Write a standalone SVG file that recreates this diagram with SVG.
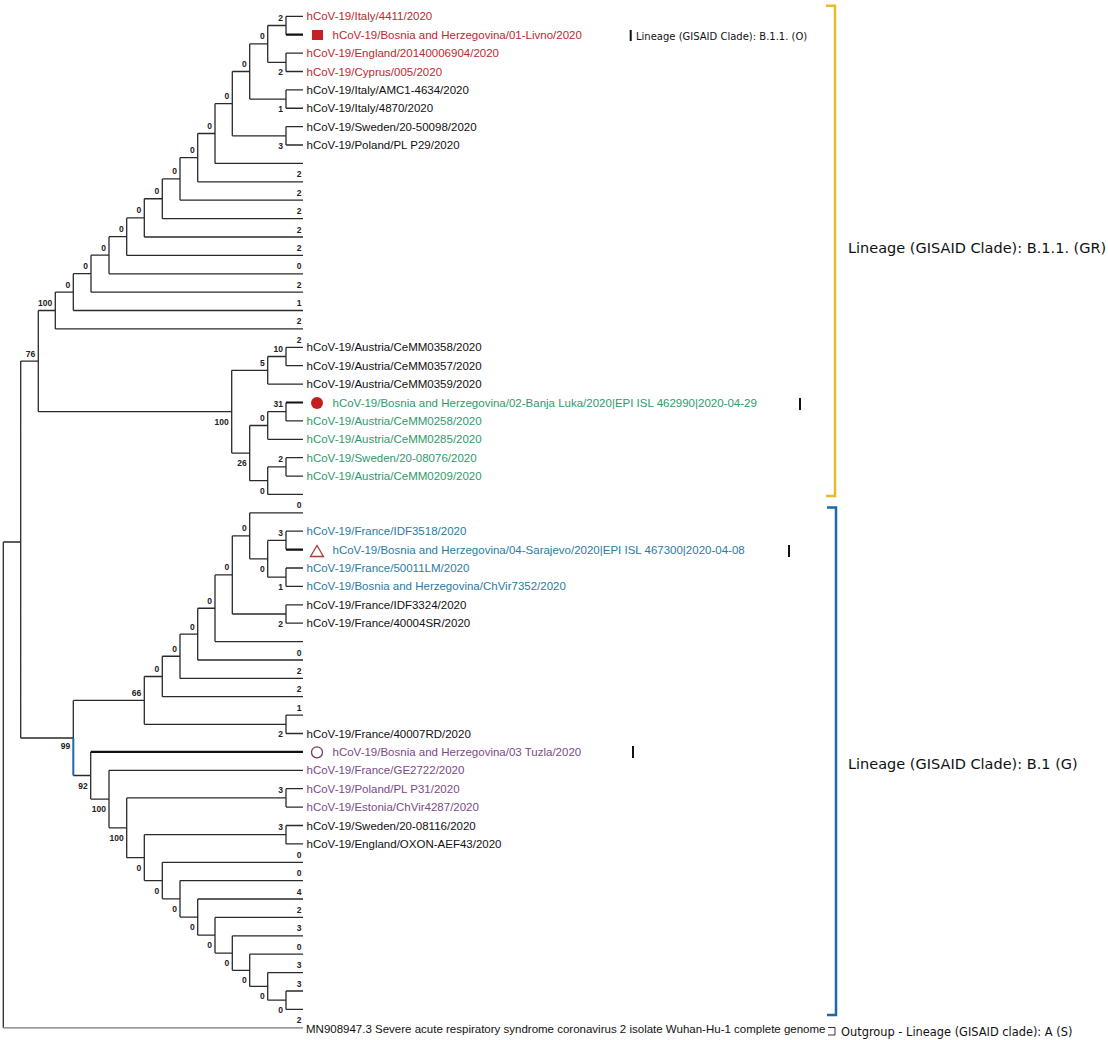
<svg xmlns="http://www.w3.org/2000/svg" width="1108" height="1040" viewBox="0 0 1108 1040">
<style>
.t{font-family:"Liberation Sans",Arial,sans-serif;font-size:11.5px}
.n{font-family:"Liberation Sans",Arial,sans-serif;font-size:8.5px;font-weight:bold;fill:#222;text-anchor:end}
.red{fill:#c0272d}.grn{fill:#2f9a6c}.blu{fill:#2a7ba2}.pur{fill:#7b4a86}.blk{fill:#111}
.tree{fill:none;stroke:#2a2a2a;stroke-width:1.3}
.bold{fill:none;stroke:#111;stroke-width:2.2}
.lab{font-family:"DejaVu Sans",sans-serif;font-size:14.5px;fill:#111}
.tick{stroke:#111;stroke-width:2}
</style>
<rect width="1108" height="1040" fill="#fff"/>
<g id="connectors">
<path class="tree" d="M3.3,542V1027.8M3.3,542H20.7
M20.7,361.1V738M20.7,361.1H38.3M20.7,738H73.3
M38.3,310.5V411.7M38.3,310.5H55.3M38.3,411.7H231.7
M55.3,292.1V328.9M55.3,292.1H73.3M55.3,328.9H303
M73.3,273.7V310.5M73.3,273.7H91M73.3,310.5H303
M91,255.2V292.2M91,255.2H109M91,292.2H303
M109,236.65V273.8M109,236.65H126.7M109,273.8H303
M126.7,217.9V255.4M126.7,217.9H144.3M126.7,255.4H303
M144.3,198.75V237M144.3,198.75H162.3M144.3,237H303
M162.3,178.9V218.6M162.3,178.9H180M162.3,218.6H303
M180,157.65V200.2M180,157.65H197.7M180,200.2H303
M197.7,133.5V181.8M197.7,133.5H215M197.7,181.8H303
M215,103.65V163.4M215,103.65H232.3M215,163.4H303
M232.3,71.5V135.8M232.3,71.5H249.7M232.3,135.8H286
M249.7,43.9V99.1M249.7,43.9H267.7M249.7,99.1H286
M267.7,25.5V62.3M267.7,25.5H286M267.7,62.3H286
M286,16.3V34.7M286,16.3H303
M286,53.1V71.5M286,53.1H303M286,71.5H303
M286,89.9V108.25M286,89.9H303M286,108.25H303
M286,126.6V145M286,126.6H303M286,145H303
M231.7,370.3V453.1M231.7,370.3H267.7M231.7,453.1H249.7
M267.7,356.5V384.1M267.7,356.5H286M267.7,384.1H303
M286,347.3V365.7M286,347.3H303M286,365.7H303
M249.7,425.5V480.65M249.7,425.5H267.7M249.7,480.65H267.7
M267.7,411.7V439.3M267.7,411.7H286M267.7,439.3H303
M286,402.5V420.9M286,420.9H303
M267.7,466.9V494.4M267.7,466.9H286M267.7,494.4H303
M286,457.7V476.1M286,457.7H303M286,476.1H303
M73.3,700.4V738M73.3,700.4H144.3M73.3,775.5H90.7
M144.3,676.5V724.3M144.3,676.5H162.3M144.3,724.3H286
M286,715.1V733.5M286,715.1H303M286,733.5H303
M162.3,656.25V696.7M162.3,656.25H180M162.3,696.7H303
M180,634.1V678.4M180,634.1H197.7M180,678.4H303
M197.7,608.25V660M197.7,608.25H215M197.7,660H303
M215,574.9V641.6M215,574.9H232.3M215,641.6H303
M232.3,535.8V614M232.3,535.8H249.7M232.3,614H286
M286,604.8V623.2M286,604.8H303M286,623.2H303
M249.7,512.8V558.8M249.7,512.8H303M249.7,558.8H267.7
M267.7,540.4V577.2M267.7,540.4H286M267.7,577.2H286
M286,531.2V549.6M286,531.2H303
M286,568V586.4M286,568H303M286,586.4H303
M90.7,751.9V799.05M90.7,799.05H109
M109,770.3V827.8M109,770.3H303M109,827.8H126.7
M126.7,797.9V857.65M126.7,797.9H286M126.7,857.65H144.3
M286,788.7V807.1M286,788.7H303M286,807.1H303
M144.3,834.7V880.6M144.3,834.7H286M144.3,880.6H162.3
M286,825.5V843.9M286,825.5H303M286,843.9H303
M162.3,862.3V898.85M162.3,862.3H303M162.3,898.85H180
M180,880.6V917.1M180,880.6H303M180,917.1H197.7
M197.7,899V935.2M197.7,899H303M197.7,935.2H215
M215,917.4V953.05M215,917.4H303M215,953.05H232.3
M232.3,935.8V970.3M232.3,935.8H303M232.3,970.3H249.7
M249.7,954.2V986.4M249.7,954.2H303M249.7,986.4H267.7
M267.7,972.6V1000.2M267.7,972.6H303M267.7,1000.2H286
M286,991V1009.4M286,991H303M286,1009.4H303"/>
<path d="M3.3,1027.8H303" fill="none" stroke="#777" stroke-width="1.3"/>
<path d="M73.3,738V775.5" fill="none" stroke="#1c6aa6" stroke-width="2"/>
<path class="bold" d="M286,34.7H303M286,402.5H303M286,549.6H303M90.7,751.9H303"/>
<path d="M828,1027.5H835V1035H828" fill="none" stroke="#333" stroke-width="1"/>
</g>
<g id="brackets">
<path d="M826,5.7H835V496H826" fill="none" stroke="#e5bd2a" stroke-width="2.5"/>
<path d="M827,507.5H836V1015H827" fill="none" stroke="#1c6aa6" stroke-width="2.5"/>
</g>
<g id="n0"><text class="t red" x="306.5" y="20.3">hCoV-19/Italy/4411/2020</text></g>
<g id="n1"><rect x="312" y="30" width="11" height="10" fill="#c42026"/><text class="t red" x="332.5" y="38.7">hCoV-19/Bosnia and Herzegovina/01-Livno/2020</text>
<line class="tick" x1="630.7" y1="30" x2="630.7" y2="41"/><text x="636" y="39.5" style="font-family:'DejaVu Sans',sans-serif;font-size:10px;fill:#111">Lineage (GISAID Clade): B.1.1. (O)</text></g>
<g id="n2"><text class="t red" x="306.5" y="57.1">hCoV-19/England/20140006904/2020</text></g>
<g id="n3"><text class="t red" x="306.5" y="75.5">hCoV-19/Cyprus/005/2020</text></g>
<g id="n4"><text class="t blk" x="306.5" y="93.9">hCoV-19/Italy/AMC1-4634/2020</text></g>
<g id="n5"><text class="t blk" x="306.5" y="112.3">hCoV-19/Italy/4870/2020</text></g>
<g id="n6"><text class="t blk" x="306.5" y="130.6">hCoV-19/Sweden/20-50098/2020</text></g>
<g id="n7"><text class="t blk" x="306.5" y="149">hCoV-19/Poland/PL P29/2020</text></g>
<g id="n18"><text class="t blk" x="306.5" y="351.3">hCoV-19/Austria/CeMM0358/2020</text></g>
<g id="n19"><text class="t blk" x="306.5" y="369.7">hCoV-19/Austria/CeMM0357/2020</text></g>
<g id="n20"><text class="t blk" x="306.5" y="388.1">hCoV-19/Austria/CeMM0359/2020</text></g>
<g id="n21"><circle cx="317" cy="403" r="6" fill="#c41e1e"/><text class="t grn" x="332.5" y="406.5">hCoV-19/Bosnia and Herzegovina/02-Banja Luka/2020|EPI ISL 462990|2020-04-29</text><line class="tick" x1="800" y1="398" x2="800" y2="410"/></g>
<g id="n22"><text class="t grn" x="306.5" y="424.9">hCoV-19/Austria/CeMM0258/2020</text></g>
<g id="n23"><text class="t grn" x="306.5" y="443.3">hCoV-19/Austria/CeMM0285/2020</text></g>
<g id="n24"><text class="t grn" x="306.5" y="461.7">hCoV-19/Sweden/20-08076/2020</text></g>
<g id="n25"><text class="t grn" x="306.5" y="480.1">hCoV-19/Austria/CeMM0209/2020</text></g>
<g id="n28"><text class="t blu" x="306.5" y="535.2">hCoV-19/France/IDF3518/2020</text></g>
<g id="n29"><polygon points="310.5,556.5 323.5,556.5 317,545.5" fill="none" stroke="#a8393b" stroke-width="1.3"/><text class="t blu" x="332.5" y="553.6">hCoV-19/Bosnia and Herzegovina/04-Sarajevo/2020|EPI ISL 467300|2020-04-08</text><line class="tick" x1="789" y1="545" x2="789" y2="557"/></g>
<g id="n30"><text class="t blu" x="306.5" y="572">hCoV-19/France/50011LM/2020</text></g>
<g id="n31"><text class="t blu" x="306.5" y="590.4">hCoV-19/Bosnia and Herzegovina/ChVir7352/2020</text></g>
<g id="n32"><text class="t blk" x="306.5" y="608.8">hCoV-19/France/IDF3324/2020</text></g>
<g id="n33"><text class="t blk" x="306.5" y="627.2">hCoV-19/France/40004SR/2020</text></g>
<g id="n39"><text class="t blk" x="306.5" y="737.5">hCoV-19/France/40007RD/2020</text></g>
<g id="n40"><circle cx="317" cy="752.3" r="5.5" fill="none" stroke="#7a3b55" stroke-width="1.3"/><text class="t pur" x="332.5" y="755.9">hCoV-19/Bosnia and Herzegovina/03 Tuzla/2020</text><line class="tick" x1="633" y1="746" x2="633" y2="758"/></g>
<g id="n41"><text class="t pur" x="306.5" y="774.3">hCoV-19/France/GE2722/2020</text></g>
<g id="n42"><text class="t pur" x="306.5" y="792.7">hCoV-19/Poland/PL P31/2020</text></g>
<g id="n43"><text class="t pur" x="306.5" y="811.1">hCoV-19/Estonia/ChVir4287/2020</text></g>
<g id="n44"><text class="t blk" x="306.5" y="829.5">hCoV-19/Sweden/20-08116/2020</text></g>
<g id="n45"><text class="t blk" x="306.5" y="847.9">hCoV-19/England/OXON-AEF43/2020</text></g>
<g id="n55"><text class="t blk" x="306" y="1033">MN908947.3 Severe acute respiratory syndrome coronavirus 2 isolate Wuhan-Hu-1 complete genome</text>
<text x="841" y="1036" style="font-family:'DejaVu Sans',sans-serif;font-size:11.4px;fill:#111">Outgroup - Lineage (GISAID clade): A (S)</text></g>
<g id="cladeGR"><text class="lab" x="848" y="253">Lineage (GISAID Clade): B.1.1. (GR)</text></g>
<g id="cladeG"><text class="lab" x="848" y="769">Lineage (GISAID Clade): B.1 (G)</text></g>
<g id="tipvalues">
<text class="n" x="301.5" y="177.3">2</text><text class="n" x="301.5" y="195.7">2</text><text class="n" x="301.5" y="214.1">2</text><text class="n" x="301.5" y="232.5">2</text><text class="n" x="301.5" y="250.9">2</text><text class="n" x="301.5" y="269.3">0</text><text class="n" x="301.5" y="287.7">2</text><text class="n" x="301.5" y="306">1</text><text class="n" x="301.5" y="324.4">2</text><text class="n" x="301.5" y="342.8">2</text>
<text class="n" x="301.5" y="508.3">0</text><text class="n" x="301.5" y="655.5">0</text><text class="n" x="301.5" y="673.9">2</text><text class="n" x="301.5" y="692.2">2</text><text class="n" x="301.5" y="710.6">1</text>
<text class="n" x="301.5" y="857.8">0</text><text class="n" x="301.5" y="876.1">0</text><text class="n" x="301.5" y="894.5">4</text><text class="n" x="301.5" y="912.9">2</text><text class="n" x="301.5" y="931.3">3</text><text class="n" x="301.5" y="949.7">0</text><text class="n" x="301.5" y="968.1">3</text><text class="n" x="301.5" y="986.5">3</text><text class="n" x="301.5" y="1023.3">2</text>
</g>
<g id="nodevalues">
<text class="n" x="283" y="21">2</text><text class="n" x="264.7" y="39.4">0</text><text class="n" x="246.7" y="67">0</text><text class="n" x="229.3" y="99.2">0</text><text class="n" x="212" y="129">0</text><text class="n" x="194.7" y="153.2">0</text><text class="n" x="177" y="174.4">0</text><text class="n" x="159.3" y="194.3">0</text><text class="n" x="141.3" y="213.4">0</text><text class="n" x="123.7" y="232.2">0</text><text class="n" x="106" y="250.7">0</text><text class="n" x="88" y="269.2">0</text><text class="n" x="70.3" y="287.6">0</text><text class="n" x="52.3" y="306">100</text><text class="n" x="35.3" y="356.6">76</text>
<text class="n" x="283" y="75.3">2</text><text class="n" x="283" y="112.1">1</text><text class="n" x="283" y="148.8">3</text>
<text class="n" x="283" y="352">10</text><text class="n" x="264.7" y="365.8">5</text><text class="n" x="283" y="407.2">31</text><text class="n" x="264.7" y="421">0</text><text class="n" x="283" y="462.4">2</text>
<text class="n" x="228.7" y="424.7">100</text><text class="n" x="246.7" y="466.1">26</text><text class="n" x="264.7" y="493.7">0</text>
<text class="n" x="246.7" y="531.3">0</text><text class="n" x="283" y="535.9">3</text><text class="n" x="229.3" y="570.4">0</text><text class="n" x="212" y="603.8">0</text><text class="n" x="194.7" y="629.6">0</text><text class="n" x="177" y="651.8">0</text><text class="n" x="159.3" y="672">0</text><text class="n" x="141.3" y="695.9">66</text>
<text class="n" x="264.7" y="571.8">0</text><text class="n" x="283" y="590.2">1</text><text class="n" x="283" y="627">2</text><text class="n" x="283" y="737.3">2</text>
<text class="n" x="70.3" y="749">99</text><text class="n" x="87.7" y="788.5">92</text><text class="n" x="106" y="812">100</text><text class="n" x="123.7" y="840.8">100</text>
<text class="n" x="283" y="793.4">3</text><text class="n" x="283" y="830.2">3</text>
<text class="n" x="141.3" y="870.7">0</text><text class="n" x="159.3" y="893.6">0</text><text class="n" x="177" y="911.9">0</text><text class="n" x="194.7" y="930.1">0</text><text class="n" x="212" y="948.2">0</text><text class="n" x="229.3" y="966">0</text><text class="n" x="246.7" y="983.3">0</text><text class="n" x="264.7" y="999.4">0</text><text class="n" x="283" y="1013.2">0</text>
</g>
</svg>
